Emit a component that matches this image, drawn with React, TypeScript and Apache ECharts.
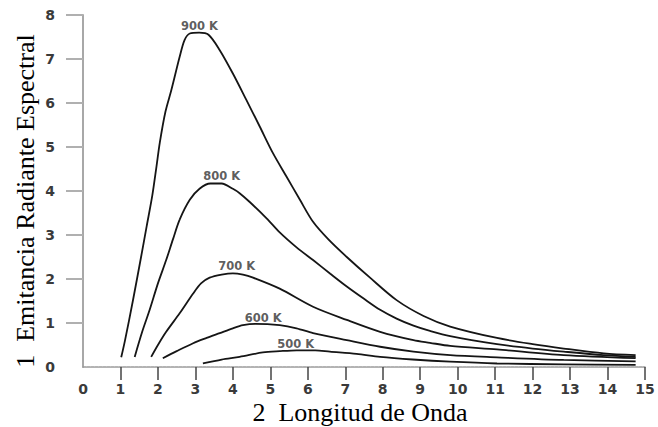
import React, { useEffect, useRef } from "react";
import * as echarts from "echarts";

const xTicks = [1, 2, 3, 4, 5, 6, 7, 8, 9, 10, 11, 12, 13, 14, 15];
const yTicks = [1, 2, 3, 4, 5, 6, 7, 8];

const xName = "2  Longitud de Onda";
const yName = "1  Emitancia Radiante Espectral";

const curveNames = ["900 K", "800 K", "700 K", "600 K", "500 K"];

const x900 = [1.02, 1.12, 1.33, 1.55, 1.7, 1.85, 1.96, 2.05, 2.2, 2.36, 2.58, 2.71, 2.85, 3.1, 3.35, 3.65, 4.0, 4.36, 4.72, 5.07, 5.43, 5.79, 6.14, 6.55, 7.04, 7.66, 8.37, 9.09, 9.8, 11.05, 12.0, 12.83, 13.9, 14.75];
const y900 = [0.22, 0.6, 1.5, 2.5, 3.2, 3.9, 4.55, 5.1, 5.8, 6.3, 7.05, 7.43, 7.58, 7.6, 7.55, 7.2, 6.67, 6.07, 5.46, 4.86, 4.33, 3.8, 3.3, 2.9, 2.5, 2.03, 1.52, 1.16, 0.92, 0.66, 0.52, 0.42, 0.31, 0.27];

const x800 = [1.38, 1.58, 1.78, 2.0, 2.22, 2.4, 2.58, 2.85, 3.11, 3.4, 3.7, 4.0, 4.18, 4.45, 4.9, 5.25, 5.7, 6.14, 6.6, 7.04, 7.5, 7.93, 8.37, 8.82, 9.26, 9.8, 11.05, 12.0, 12.83, 13.9, 14.75];
const y800 = [0.23, 0.8, 1.3, 1.9, 2.43, 2.9, 3.35, 3.8, 4.05, 4.17, 4.17, 4.05, 3.95, 3.75, 3.38, 3.06, 2.72, 2.43, 2.12, 1.83, 1.55, 1.3, 1.1, 0.94, 0.82, 0.7, 0.52, 0.42, 0.35, 0.27, 0.23];

const x700 = [1.82, 2.0, 2.22, 2.58, 2.94, 3.15, 3.38, 3.7, 4.0, 4.27, 4.54, 5.25, 6.14, 7.04, 7.93, 8.82, 9.26, 9.8, 11.05, 12.83, 14.75];
const y700 = [0.23, 0.5, 0.8, 1.22, 1.67, 1.9, 2.03, 2.1, 2.13, 2.1, 2.03, 1.78, 1.37, 1.07, 0.8, 0.61, 0.55, 0.48, 0.4, 0.27, 0.2];

const x600 = [2.13, 2.5, 2.94, 3.3, 3.65, 4.0, 4.27, 4.6, 5.25, 5.7, 6.14, 7.04, 7.93, 8.82, 9.8, 11.05, 12.83, 14.75];
const y600 = [0.2, 0.36, 0.54, 0.66, 0.77, 0.88, 0.95, 0.98, 0.95, 0.88, 0.77, 0.61, 0.46, 0.35, 0.27, 0.22, 0.16, 0.13];

const x500 = [3.2, 3.7, 4.18, 4.8, 5.25, 5.7, 6.2, 6.59, 7.3, 7.93, 8.8, 9.8, 11.05, 12.83, 14.75];
const y500 = [0.08, 0.17, 0.23, 0.33, 0.36, 0.38, 0.38, 0.35, 0.3, 0.23, 0.17, 0.12, 0.08, 0.06, 0.05];

const labelX = [3.11, 3.7, 4.1, 4.81, 5.68];
const labelY = [7.75, 4.34, 2.3, 1.12, 0.52];

const seriesX = [x900, x800, x700, x600, x500];
const seriesY = [y900, y800, y700, y600, y500];

export default function App() {
  const ref = useRef<HTMLDivElement>(null);
  useEffect(() => {
    if (!ref.current) return;
    const chart = echarts.init(ref.current, undefined, { renderer: "svg" });
    const tickFont = {
      fontFamily: "DejaVu Sans",
      fontWeight: "bold" as const,
      fontSize: 14,
      lineHeight: 14,
      color: "#3a3a3a",
    };
    const lines = curveNames.map((n, i) => ({
      name: n,
      type: "line" as const,
      data: seriesX[i].map((x, j) => [x, seriesY[i][j]]),
      showSymbol: false,
      symbol: "none",
      smooth: 0.3,
      lineStyle: { color: "#151515", width: 1.8 },
      z: 3,
    }));
    chart.setOption({
      animation: false,
      backgroundColor: "#ffffff",
      grid: {
        left: 83,
        right: 13,
        top: 15,
        bottom: 60,
        containLabel: false,
        outerBoundsMode: "none",
      },
      xAxis: {
        type: "value",
        min: 0,
        max: 15,
        interval: 1,
        axisLine: {
          show: true,
          lineStyle: { color: "#9a9a9a", width: 1.5, type: [3, 1] },
        },
        axisTick: {
          show: true,
          length: 13,
          customValues: xTicks,
          lineStyle: { color: "#444", width: 1.5 },
        },
        axisLabel: { ...tickFont, margin: 15 },
        splitLine: { show: false },
      },
      yAxis: {
        type: "value",
        min: 0,
        max: 8,
        interval: 1,
        axisLine: {
          show: true,
          lineStyle: { color: "#a8a8a8", width: 2 },
        },
        axisTick: {
          show: true,
          length: 17,
          customValues: yTicks,
          lineStyle: { color: "#b0b0b0", width: 2 },
        },
        axisLabel: { ...tickFont, margin: 28 },
        splitLine: { show: false },
      },
      graphic: [
        {
          type: "text",
          x: 25,
          y: 201,
          rotation: Math.PI / 2,
          style: {
            text: yName,
            fontFamily: "Liberation Serif",
            fontSize: 26,
            fill: "#000",
            align: "center",
            verticalAlign: "middle",
          },
        },
        {
          type: "text",
          x: 360,
          y: 412,
          style: {
            text: xName,
            fontFamily: "Liberation Serif",
            fontSize: 26,
            lineHeight: 22,
            fill: "#000",
            align: "center",
            verticalAlign: "middle",
          },
        },
      ],
      series: [
        ...lines,
        {
          name: "labels",
          type: "scatter",
          symbolSize: 1,
          itemStyle: { color: "transparent" },
          data: curveNames.map((n, i) => ({
            name: n,
            value: [labelX[i], labelY[i]],
          })),
          label: {
            show: true,
            position: "inside",
            formatter: "{b}",
            fontFamily: "DejaVu Sans",
            fontWeight: "bold",
            fontSize: 11.5,
            color: "#333",
          },
          z: 4,
        },
      ],
    });
    return () => chart.dispose();
  }, []);
  return (
    <div
      ref={ref}
      style={{ position: "fixed", left: 0, top: 0, width: 658, height: 427, background: "#fff" }}
    />
  );
}
